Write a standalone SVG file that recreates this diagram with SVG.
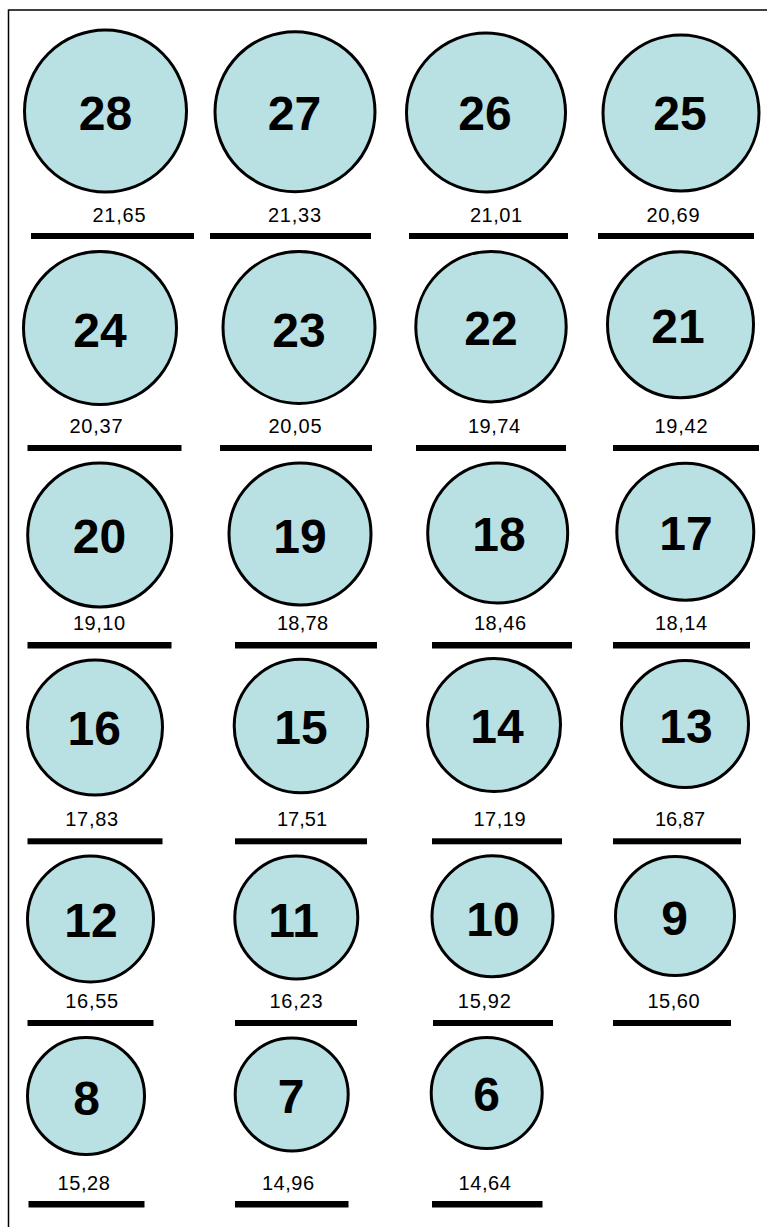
<svg xmlns="http://www.w3.org/2000/svg" width="767" height="1227" viewBox="0 0 767 1227">
<style>
.c{fill:#b9e0e3;stroke:#000;stroke-width:3}
.n{font-family:"Liberation Sans",Arial,sans-serif;font-weight:bold;font-size:48px;text-anchor:middle;fill:#000}
.l{font-family:"Liberation Sans",Arial,sans-serif;font-size:20px;text-anchor:middle;fill:#000}
.b{fill:#000}
</style>
<rect x="0" y="0" width="767" height="1227" fill="#fff"/>
<rect x="8.5" y="10" width="820" height="1300" fill="none" stroke="#000" stroke-width="1.5"/>
<g id="nodes">
<g id="n28"><circle class="c" cx="105.5" cy="111" r="81"/><text class="n" x="105.5" y="130">28</text><text class="l" x="119" y="222" textLength="53" lengthAdjust="spacing">21,65</text><rect class="b" x="31" y="233" width="163" height="6"/></g>
<g id="n27"><circle class="c" cx="295" cy="111.7" r="80"/><text class="n" x="294.5" y="130">27</text><text class="l" x="294.5" y="222" textLength="53" lengthAdjust="spacing">21,33</text><rect class="b" x="210" y="233" width="161" height="6"/></g>
<g id="n26"><circle class="c" cx="486" cy="112.5" r="79.5"/><text class="n" x="485" y="130">26</text><text class="l" x="496" y="222" textLength="52" lengthAdjust="spacing">21,01</text><rect class="b" x="409" y="233" width="159" height="6"/></g>
<g id="n25"><circle class="c" cx="681" cy="113" r="78"/><text class="n" x="680" y="130">25</text><text class="l" x="673" y="222" textLength="53" lengthAdjust="spacing">20,69</text><rect class="b" x="598" y="233" width="156" height="6"/></g>

<g id="n24"><circle class="c" cx="100" cy="328" r="76.5"/><text class="n" x="100" y="347">24</text><text class="l" x="96" y="433" textLength="53" lengthAdjust="spacing">20,37</text><rect class="b" x="27.5" y="445" width="154" height="6"/></g>
<g id="n23"><circle class="c" cx="299" cy="327.5" r="76"/><text class="n" x="299" y="347">23</text><text class="l" x="295" y="433" textLength="53" lengthAdjust="spacing">20,05</text><rect class="b" x="220" y="445" width="152" height="6"/></g>
<g id="n22"><circle class="c" cx="491" cy="326.7" r="75.2"/><text class="n" x="491" y="345">22</text><text class="l" x="494" y="433" textLength="52" lengthAdjust="spacing">19,74</text><rect class="b" x="416" y="445" width="150" height="6"/></g>
<g id="n21"><circle class="c" cx="680.5" cy="324.7" r="73"/><text class="n" x="678" y="343">21</text><text class="l" x="681" y="433" textLength="53" lengthAdjust="spacing">19,42</text><rect class="b" x="613" y="445" width="146" height="6"/></g>

<g id="n20"><circle class="c" cx="99.7" cy="535" r="72"/><text class="n" x="99.5" y="553">20</text><text class="l" x="99" y="630" textLength="52" lengthAdjust="spacing">19,10</text><rect class="b" x="27.5" y="642" width="144" height="6.5"/></g>
<g id="n19"><circle class="c" cx="300" cy="534" r="71"/><text class="n" x="300" y="553">19</text><text class="l" x="302.5" y="630" textLength="51" lengthAdjust="spacing">18,78</text><rect class="b" x="235" y="642" width="142" height="6.5"/></g>
<g id="n18"><circle class="c" cx="497.7" cy="533" r="70"/><text class="n" x="499" y="551">18</text><text class="l" x="500" y="630" textLength="52" lengthAdjust="spacing">18,46</text><rect class="b" x="432" y="642" width="140" height="6.5"/></g>
<g id="n17"><circle class="c" cx="685.3" cy="531.7" r="68.5"/><text class="n" x="686" y="550">17</text><text class="l" x="681" y="630" textLength="52" lengthAdjust="spacing">18,14</text><rect class="b" x="613" y="642" width="137" height="6.5"/></g>

<g id="n16"><circle class="c" cx="95" cy="727.5" r="67.5"/><text class="n" x="94.3" y="745">16</text><text class="l" x="91.7" y="826" textLength="53" lengthAdjust="spacing">17,83</text><rect class="b" x="27.5" y="838.3" width="135" height="6"/></g>
<g id="n15"><circle class="c" cx="301" cy="726" r="66.8"/><text class="n" x="301" y="744">15</text><text class="l" x="302" y="826" textLength="50" lengthAdjust="spacing">17,51</text><rect class="b" x="235" y="838.3" width="132" height="6"/></g>
<g id="n14"><circle class="c" cx="494" cy="725" r="66.5"/><text class="n" x="497" y="743">14</text><text class="l" x="499.5" y="826" textLength="52" lengthAdjust="spacing">17,19</text><rect class="b" x="432" y="838.3" width="130" height="6"/></g>
<g id="n13"><circle class="c" cx="685" cy="724" r="63.5"/><text class="n" x="686" y="743">13</text><text class="l" x="680" y="826" textLength="50" lengthAdjust="spacing">16,87</text><rect class="b" x="613" y="838.3" width="128" height="6"/></g>

<g id="n12"><circle class="c" cx="90.5" cy="919" r="63"/><text class="n" x="91" y="937">12</text><text class="l" x="91.7" y="1007.5" textLength="53" lengthAdjust="spacing">16,55</text><rect class="b" x="27.5" y="1020" width="126" height="6"/></g>
<g id="n11"><circle class="c" cx="296.3" cy="917.5" r="61.5"/><text class="n" x="293.7" y="936.5">11</text><text class="l" x="296" y="1007.5" textLength="53" lengthAdjust="spacing">16,23</text><rect class="b" x="235" y="1020" width="122" height="6"/></g>
<g id="n10"><circle class="c" cx="492.5" cy="916.3" r="60.5"/><text class="n" x="493" y="936">10</text><text class="l" x="484.3" y="1007.5" textLength="53" lengthAdjust="spacing">15,92</text><rect class="b" x="433" y="1020" width="120" height="6"/></g>
<g id="n9"><circle class="c" cx="675" cy="916" r="59.5"/><text class="n" x="674.7" y="934.5">9</text><text class="l" x="673.5" y="1007.5" textLength="52" lengthAdjust="spacing">15,60</text><rect class="b" x="613" y="1020" width="118" height="6"/></g>

<g id="n8"><circle class="c" cx="86" cy="1096" r="58.5"/><text class="n" x="86.7" y="1114.5">8</text><text class="l" x="83.7" y="1190" textLength="52.5" lengthAdjust="spacing">15,28</text><rect class="b" x="28.5" y="1201" width="116" height="6.5"/></g>
<g id="n7"><circle class="c" cx="291.7" cy="1094.5" r="56.5"/><text class="n" x="291.2" y="1113">7</text><text class="l" x="288" y="1190" textLength="52" lengthAdjust="spacing">14,96</text><rect class="b" x="235" y="1201" width="113.5" height="6.5"/></g>
<g id="n6"><circle class="c" cx="486.7" cy="1093" r="55.5"/><text class="n" x="486.7" y="1111">6</text><text class="l" x="484.7" y="1190" textLength="52.5" lengthAdjust="spacing">14,64</text><rect class="b" x="432" y="1201" width="110.5" height="6.5"/></g>
</g>
<g id="connectors"/>
</svg>
